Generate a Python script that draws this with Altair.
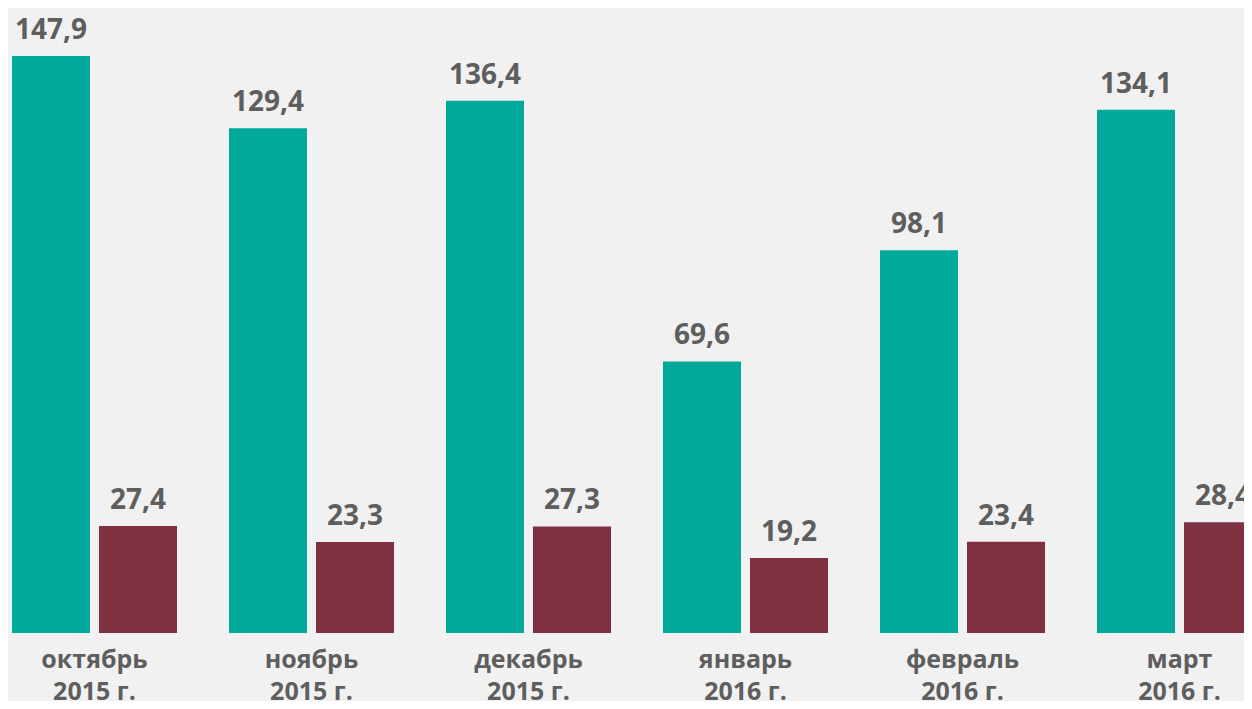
import altair as alt
import pandas as pd

months = ["октябрь\n2015 г.", "ноябрь\n2015 г.", "декабрь\n2015 г.",
          "январь\n2016 г.", "февраль\n2016 г.", "март\n2016 г."]
series_a = [147.9, 129.4, 136.4, 69.6, 98.1, 134.1]
series_b = [27.4, 23.3, 27.3, 19.2, 23.4, 28.4]
series_names = ["A", "B"]
colors = ["#00a99a", "#7f3142"]

rows = []
for m, a, b in zip(months, series_a, series_b):
    rows.append({"month": m, "series": series_names[0], "value": a})
    rows.append({"month": m, "series": series_names[1], "value": b})
df = pd.DataFrame(rows)
df["label"] = df["value"].map(lambda v: f"{v:.1f}".replace(".", ","))

x = alt.X("month:N", sort=months, title=None,
          scale=alt.Scale(paddingInner=0.2396, paddingOuter=0.0184, range=[0, 1258]),
          axis=alt.Axis(labelExpr="split(datum.label, '\\n')", labelAngle=0,
                        labelFontSize=25, labelFont="Open Sans", labelFontWeight="bold",
                        labelColor="#5e5e5e", labelLineHeight=32, labelPadding=34,
                        ticks=False, domain=False, labelBaseline="alphabetic"))
xo = alt.XOffset("series:N", sort=series_names,
                 scale=alt.Scale(paddingInner=0.1034, paddingOuter=0))
y = alt.Y("value:Q", scale=alt.Scale(domain=[0, 160.2], nice=False, zero=True), axis=None)

base = alt.Chart(df).encode(x=x, xOffset=xo, y=y)

bars = base.mark_bar().encode(
    color=alt.Color("series:N", sort=series_names,
                    scale=alt.Scale(domain=series_names, range=colors), legend=None)
)
texts = base.mark_text(baseline="alphabetic", dy=-17, fontSize=28, font="Open Sans",
                       fontWeight="bold", color="#5e5e5e").encode(text="label:N")

chart = (bars + texts).properties(
    width=1236, height=625, background="#f1f1f1",
    autosize=alt.AutoSizeParams(type="none"),
    padding={"left": 0, "right": 0, "top": 0, "bottom": 68}
).configure_view(stroke=None)

chart.save("out.html", embed_options={"renderer": "svg", "actions": False})
